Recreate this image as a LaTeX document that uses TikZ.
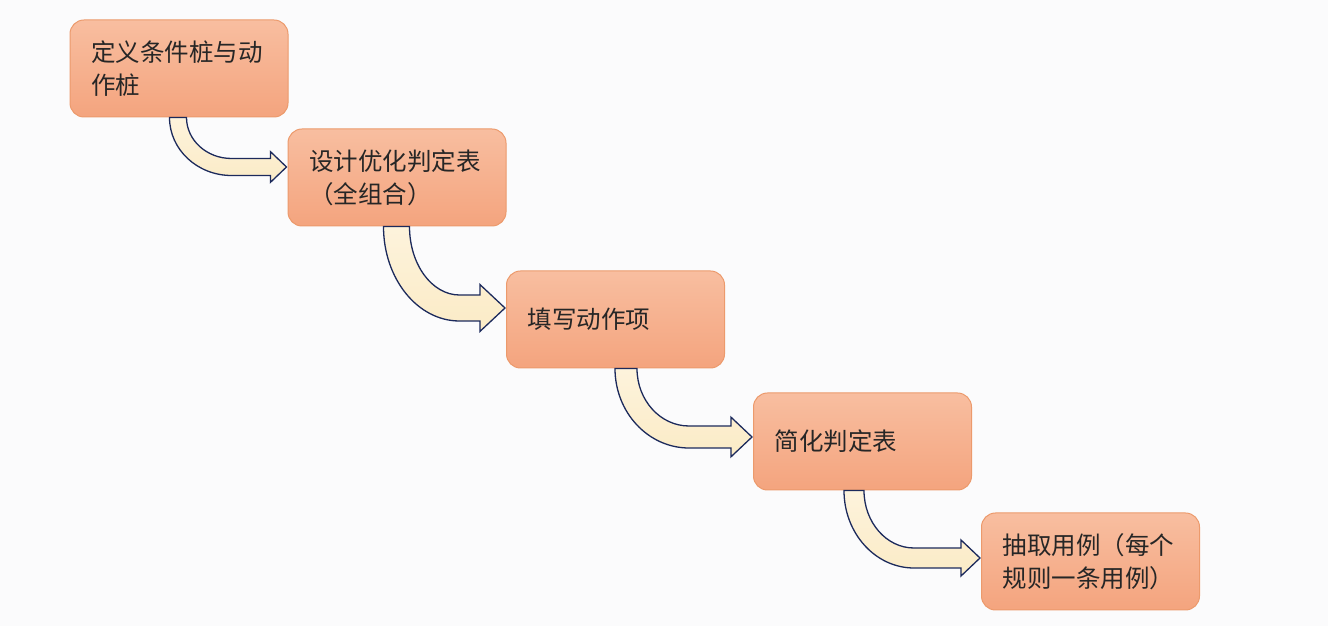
\documentclass[tikz,border=0pt]{standalone}
\usepackage{fontspec}
\setmainfont{Noto Sans CJK SC}
\usepackage{xcolor}
\usetikzlibrary{calc}

\definecolor{boxtop}{HTML}{F8BEA0}
\definecolor{boxbot}{HTML}{F4A47E}
\definecolor{boxline}{HTML}{EC9A6C}
\definecolor{arrowtop}{HTML}{FDF3DC}
\definecolor{arrowbot}{HTML}{FBEBC6}
\definecolor{arrowline}{HTML}{1C2A5C}
\definecolor{txt}{HTML}{262626}
\definecolor{bg}{HTML}{FBFBFC}

% bent block arrow: from, to, tail offset, width, tip shift, bend
\newcommand{\bentarrow}[6]{%
  \draw[bent] let \p1=(#1.south west), \p2=(#2.west) in
    (\x1+#3, \y1)
    arc[start angle=180, end angle=270, x radius=#6pt, y radius={\y1-(\y2)-#5pt+#4pt/2}]
    -- (\x2-#4, \y2+#5-#4/2)
    -- (\x2-#4, \y2+#5-0.9*#4)
    -- (\x2-1, \y2+#5)
    -- (\x2-#4, \y2+#5+0.9*#4)
    -- (\x2-#4, \y2+#5+#4/2)
    -- (\x1+#3+#6, \y2+#5+#4/2)
    arc[start angle=270, end angle=180, x radius=#6pt-#4pt, y radius={\y1-(\y2)-#5pt-#4pt/2}]
    -- cycle;
}

\begin{document}
\begin{tikzpicture}[x=1pt, y=1pt,
    stepbox/.style={rectangle, rounded corners=14pt, draw=boxline, line width=1pt,
        top color=boxtop, bottom color=boxbot, text width=176pt, inner xsep=21pt,
        inner ysep=0pt, minimum height=97pt, align=left, text=txt,
        font=\fontsize{24.5}{33}\selectfont},
    bent/.style={draw=arrowline, line width=1.3pt, top color=arrowtop,
        bottom color=arrowbot, line join=miter}
]
    % Background
    \fill[bg] (0,0) rectangle (1328,626);
    \useasboundingbox (0,0) rectangle (1328,626);

    % Steps
    \node[stepbox] (define) at (179,557.5) {定义条件桩与动\\作桩};
    \node[stepbox] (design) at (397,448.5) {设计优化判定表\\（全组合）};
    \node[stepbox] (fill) at (615.5,306.5) {填写动作项};
    \node[stepbox] (simplify) at (862.5,184.5) {简化判定表};
    \node[stepbox] (extract) at (1090.5,64.5) {抽取用例（每个\\规则一条用例）};

    % Connections
    \bentarrow{define}{design}{100}{17}{10.5}{62}
    \bentarrow{design}{fill}{96}{26}{11.5}{76}
    \bentarrow{fill}{simplify}{109}{22}{4.5}{74}
    \bentarrow{simplify}{extract}{91}{20}{3.5}{70}
\end{tikzpicture}
\end{document}
